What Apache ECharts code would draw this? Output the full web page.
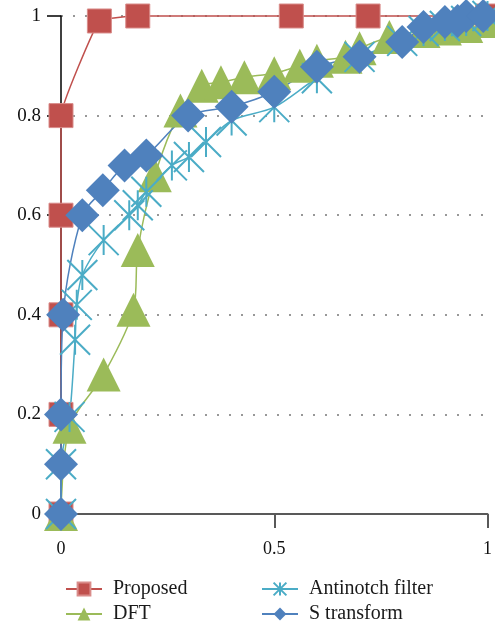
<!DOCTYPE html>
<html>
<head>
<meta charset="utf-8">
<script src="https://cdn.jsdelivr.net/npm/echarts@6/dist/echarts.min.js"></script>
<style>
  html, body { margin: 0; padding: 0; background: #fff; }
  #chart { width: 495px; height: 626px; }
</style>
</head>
<body>
<div id="chart"></div>
<script>
// Detection curves: [x, y] points per method
var proposed = [[0, 0], [0, 0.2], [0, 0.4], [0, 0.6], [0, 0.8], [0.09, 0.99], [0.18, 1], [0.54, 1], [0.72, 1], [1, 1]];
var dft = [[0, 0], [0.02, 0.175], [0.1, 0.28], [0.17, 0.41], [0.18, 0.53], [0.22, 0.68], [0.28, 0.81],
           [0.33, 0.86], [0.375, 0.867], [0.43, 0.877], [0.5, 0.885], [0.56, 0.9], [0.6, 0.91],
           [0.667, 0.918], [0.7, 0.935], [0.77, 0.958], [0.85, 0.97], [0.9, 0.975], [0.95, 0.98], [1, 0.99]];
var antinotch = [[0, 0], [0, 0.1], [0.02, 0.195], [0.033, 0.35], [0.037, 0.42], [0.05, 0.48], [0.1, 0.55],
                 [0.16, 0.6], [0.18, 0.62], [0.2, 0.647], [0.26, 0.7], [0.3, 0.717], [0.34, 0.747],
                 [0.4, 0.79], [0.5, 0.817], [0.6, 0.875], [0.7, 0.918], [0.8, 0.95], [0.85, 0.97],
                 [0.9, 0.98], [0.95, 0.99], [1, 1]];
var sTransform = [[0, 0], [0, 0.1], [0, 0.2], [0.005, 0.4], [0.05, 0.6], [0.098, 0.65], [0.149, 0.7],
                  [0.2, 0.72], [0.298, 0.8], [0.4, 0.818], [0.5, 0.848], [0.6, 0.898], [0.7, 0.918],
                  [0.8, 0.948], [0.85, 0.978], [0.9, 0.988], [0.93, 0.99], [0.95, 1], [0.99, 1]];

var seriesNames = ['Proposed', 'DFT', 'Antinotch filter', 'S transform'];
var xTicks = [0, 0.5, 1];
var yTicks = [0, 0.2, 0.4, 0.6, 0.8, 1];

var FONT = '"Liberation Serif", "DejaVu Serif", serif';
var RED = '#C0504D', GREEN = '#9BBB59', CYAN = '#4BACC6', BLUE = '#4F81BD';
var STAR = 'path://M0,0L10,10M10,0L0,10M5,0L5,10';

var chart = echarts.init(document.getElementById('chart'), null, { renderer: 'canvas' });

function makeSeries(name, data, color, symbol, size, extra) {
  var s = {
    name: name,
    type: 'line',
    data: data,
    smooth: 0.3,
    clip: false,
    symbol: symbol,
    symbolSize: size,
    lineStyle: { color: color, width: 1.5 },
    itemStyle: { color: color, borderColor: color, borderWidth: 0 },
    emphasis: { disabled: true },
    animation: false
  };
  if (extra) { for (var k in extra) s[k] = extra[k]; }
  return s;
}

// one legend block per entry, laid out in two columns
function legendItem(name, left, top) {
  return {
    data: [name],
    left: left, top: top,
    itemWidth: 36, itemHeight: 16,
    selectedMode: false,
    textStyle: { fontFamily: FONT, fontSize: 20, color: '#1a1a1a', padding: [0, 0, 0, 6] }
  };
}

var option = {
  animation: false,
  backgroundColor: '#fff',
  grid: { left: 61, right: 5, top: 16, bottom: 112, containLabel: false },
  xAxis: {
    type: 'value',
    min: 0, max: 1, interval: 0.5,
    axisLine: { show: true, lineStyle: { color: '#595959', width: 2 } },
    axisTick: { show: true, length: 14, lineStyle: { color: '#595959', width: 2 } },
    axisLabel: {
      color: '#111', fontFamily: FONT, fontSize: 18, margin: 26,
      formatter: function (v) { return xTicks.indexOf(v) >= 0 ? String(v) : ''; }
    },
    splitLine: { show: false }
  },
  yAxis: {
    type: 'value',
    min: 0, max: 1, interval: 0.2,
    axisLine: { show: true, lineStyle: { color: '#000', width: 1.5 } },
    axisTick: { show: true, length: 14, lineStyle: { color: '#000', width: 1.5 } },
    axisLabel: {
      color: '#111', fontFamily: FONT, fontSize: 19, margin: 20,
      formatter: function (v) {
        var t = yTicks.find(function (y) { return Math.abs(y - v) < 1e-9; });
        return t === undefined ? '' : String(t);
      }
    },
    splitLine: { show: true, lineStyle: { color: '#777', width: 1.5, type: [2, 10] } }
  },
  legend: [
    legendItem(seriesNames[0], 60, 574),
    legendItem(seriesNames[1], 60, 599),
    legendItem(seriesNames[2], 256, 574),
    legendItem(seriesNames[3], 256, 599)
  ],
  series: [
    makeSeries(seriesNames[0], proposed, RED, 'rect', 24,
      { smooth: 0.1, itemStyle: { color: RED, borderColor: '#d98c8a', borderWidth: 1 } }),
    makeSeries(seriesNames[1], dft, GREEN, 'triangle', 34),
    makeSeries(seriesNames[2], antinotch, CYAN, STAR, 30,
      { itemStyle: { color: CYAN, borderColor: CYAN, borderWidth: 2 } }),
    makeSeries(seriesNames[3], sTransform, BLUE, 'diamond', 34)
  ]
};

chart.setOption(option);
</script>
</body>
</html>
